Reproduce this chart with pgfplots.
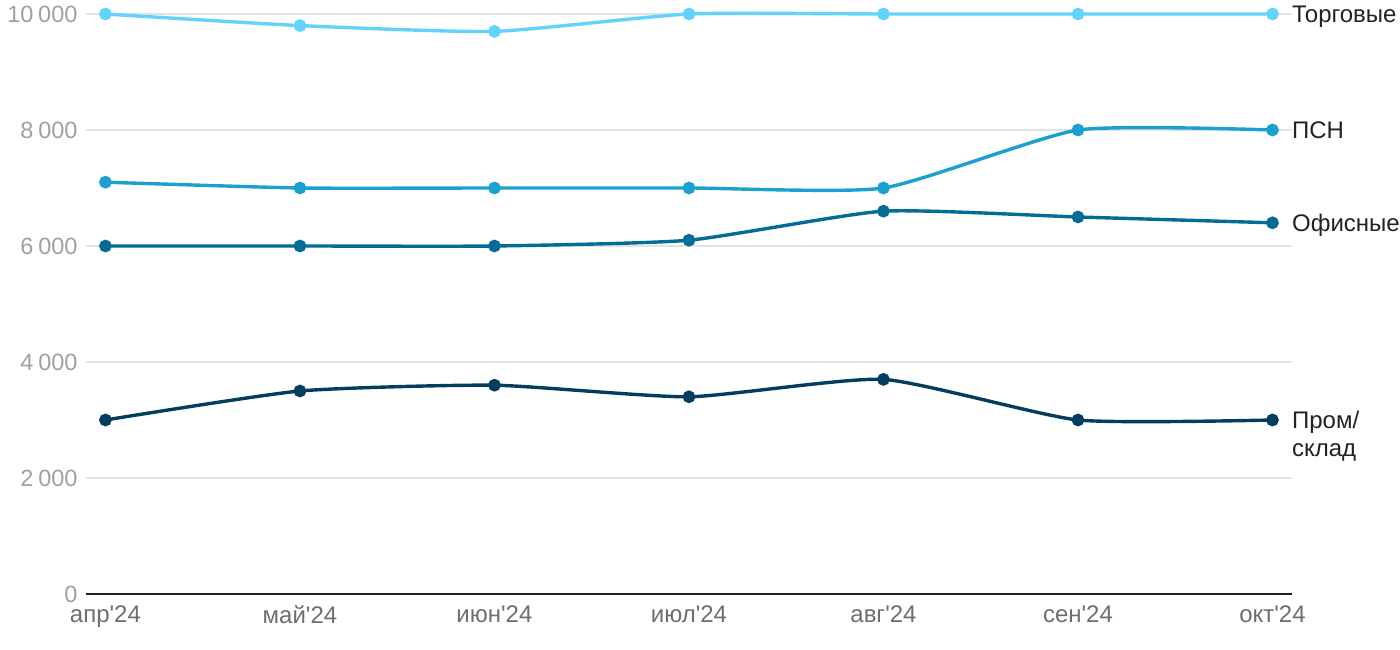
\documentclass[border=0pt]{standalone}
\usepackage{pgfplots}
\pgfplotsset{compat=1.18}
\usepackage{fontspec}
\setmainfont{Liberation Sans}
\definecolor{ctorg}{HTML}{62D3FA}
\definecolor{cpsn}{HTML}{1AA1D0}
\definecolor{coff}{HTML}{046C97}
\definecolor{cprom}{HTML}{043D5F}
\definecolor{gridc}{HTML}{E3E3E3}
\definecolor{ylab}{HTML}{A0A0A0}
\definecolor{xlab}{HTML}{6E6E6E}
\definecolor{lab}{HTML}{222222}
\newcommand{\ap}{\textquotesingle}
\newcommand{\tsp}{\hspace{0.2em}}
\begin{document}
\begin{tikzpicture}
\path[use as bounding box] (-86pt,-56pt) rectangle (1314pt,594pt);
\begin{axis}[
  scale only axis, width=1206pt, height=580pt,
  at={(0pt,0pt)}, anchor=south west,
  xmin=-0.1, xmax=6.1, ymin=0, ymax=10000,
  clip=false,
  axis line style={draw=none},
  major tick length=0pt,
  ymajorgrids, grid style={color=gridc, line width=1.5pt},
  ytick={0,2000,4000,6000,8000,10000},
  yticklabels={0,2\tsp000,4\tsp000,6\tsp000,8\tsp000,10\tsp000},
  xtick={0,1,2,3,4,5,6},
  xticklabels={апр\ap24,май\ap24,июн\ap24,июл\ap24,авг\ap24,сен\ap24,окт\ap24},
  yticklabel style={font=\fontsize{23.5}{23.5}\selectfont, text=ylab, xshift=-5pt},
  xticklabel style={font=\fontsize{24}{24}\selectfont, text=xlab, yshift=-8pt},
  every axis plot/.append style={line width=3.4pt, smooth, tension=0.33, mark=*, mark size=4.6pt, mark options={line width=0pt}},
]
\draw[color=black!88, line width=2pt] (axis cs:-0.1,0) -- (axis cs:6.1,0);
\addplot[color=cprom, mark options={fill=cprom, draw=cprom}] coordinates {(0,3000) (1,3500) (2,3600) (3,3400) (4,3700) (5,3000) (6,3000)};
\addplot[color=coff, mark options={fill=coff, draw=coff}] coordinates {(0,6000) (1,6000) (2,6000) (3,6100) (4,6600) (5,6500) (6,6400)};
\addplot[color=cpsn, mark options={fill=cpsn, draw=cpsn}] coordinates {(0,7100) (1,7000) (2,7000) (3,7000) (4,7000) (5,8000) (6,8000)};
\addplot[color=ctorg, mark options={fill=ctorg, draw=ctorg}] coordinates {(0,10000) (1,9800) (2,9700) (3,10000) (4,10000) (5,10000) (6,10000)};
\node[anchor=base west, inner sep=0pt, text=lab, font=\fontsize{24}{24}\selectfont, yshift=-8.5pt] at (axis cs:6.1,10000) {Торговые};
\node[anchor=base west, inner sep=0pt, text=lab, font=\fontsize{24}{24}\selectfont, yshift=-8.5pt] at (axis cs:6.1,8000) {ПСН};
\node[anchor=base west, inner sep=0pt, text=lab, font=\fontsize{24}{24}\selectfont, yshift=-8.5pt] at (axis cs:6.1,6400) {Офисные};
\node[anchor=base west, inner sep=0pt, text=lab, font=\fontsize{24}{24}\selectfont, yshift=-8.5pt] at (axis cs:6.1,3000) {Пром/};
\node[anchor=base west, inner sep=0pt, text=lab, font=\fontsize{24}{24}\selectfont, yshift=-37pt] at (axis cs:6.1,3000) {склад};
\end{axis}
\end{tikzpicture}
\end{document}
